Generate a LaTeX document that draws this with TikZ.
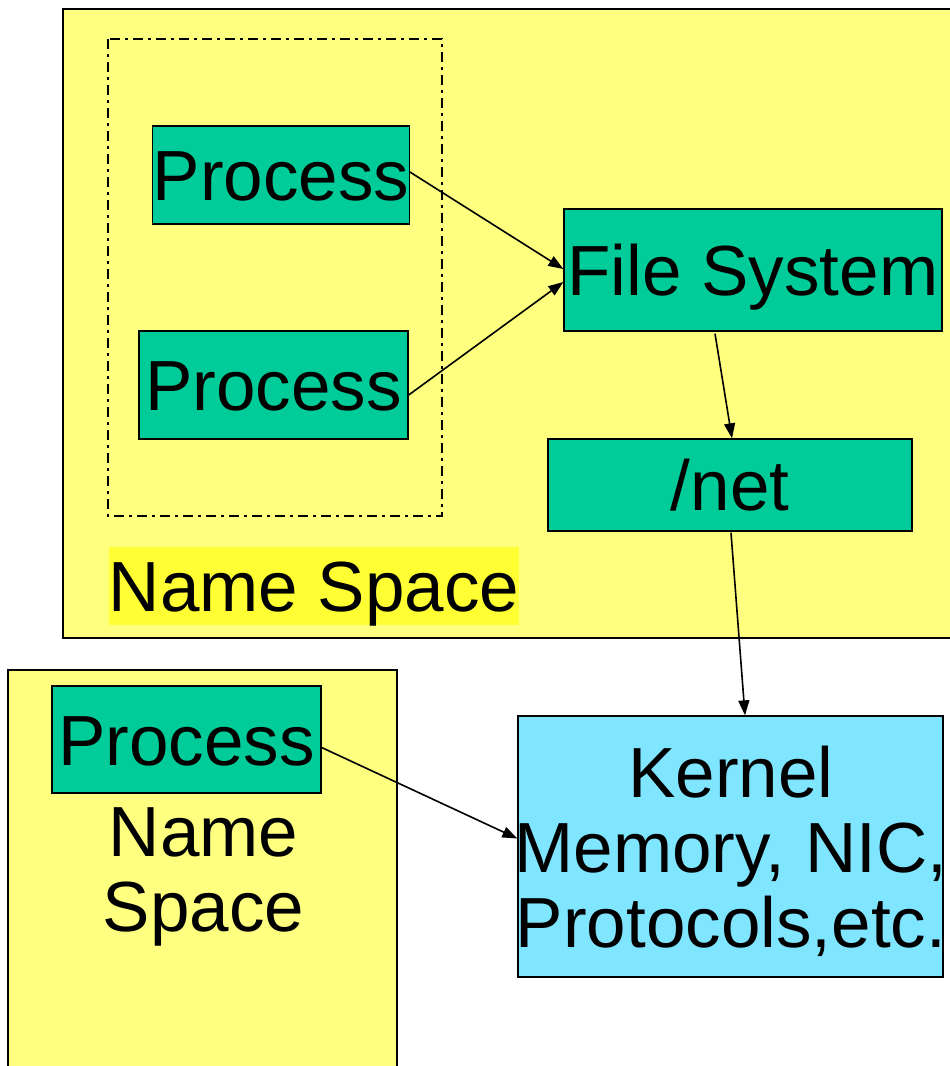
\documentclass[tikz,border=0pt]{standalone}
\usepackage{fontspec}
\setmainfont{Liberation Sans}
\usetikzlibrary{arrows.meta,calc}
\definecolor{nsyellow}{RGB}{255,255,128}
\definecolor{hlyellow}{RGB}{255,255,51}
\definecolor{procgreen}{RGB}{0,204,153}
\definecolor{kcyan}{RGB}{128,229,255}
\begin{document}
\begin{tikzpicture}[x=1pt,y=-1pt,
  bigfont/.style={font=\fontsize{71}{75}\selectfont},
  nsbox/.style={draw=black,line width=1.3pt,fill=nsyellow},
  gbox/.style={draw=black,line width=1.3pt,fill=procgreen,inner sep=0pt,
    bigfont,text height=51pt,text depth=0pt},
  conn/.style={line width=1.6pt,-{Triangle[length=15pt,width=11pt]}},
  ddot/.style={line width=2.4pt,dash pattern=on 10pt off 5pt on 3pt off 5pt}]
\useasboundingbox (0,0) rectangle (950,1066);
\fill[white] (0,0) rectangle (950,1066);
% outer name spaces
\draw[nsbox] (63,9) rectangle (960,638);
\draw[nsbox] (8,670) rectangle (397,1080);
% dash-dot group
\draw[ddot] (108,39) rectangle (442,516);
% nodes
\node[gbox,minimum width=254pt,minimum height=98pt] (p1) at (281,175) {Process};
\node[gbox,minimum width=269pt,minimum height=108pt] (p2) at (273.5,385) {Process};
\node[gbox,minimum width=378pt,minimum height=122pt] (fs) at (753,270) {File System};
\node[gbox,minimum width=364pt,minimum height=92pt] (net) at (730,485) {/net};
\node[fill=hlyellow,inner sep=0pt,minimum width=410pt,minimum height=78pt,
  bigfont,text height=51pt,text depth=0pt] (nslabel) at (314,586) {Name Space};
\node[gbox,minimum width=269pt,minimum height=107pt] (p3) at (186.5,739.5) {Process};
\node[bigfont,align=center,anchor=north,inner sep=0pt] (ns2) at (203.5,807) {Name\\Space};
\node[draw=black,line width=1.3pt,fill=kcyan,minimum width=425pt,minimum height=261pt,inner sep=0pt] (kernel) at (730.5,846.5) {};
\node[bigfont,align=center,anchor=north,inner sep=0pt] (ktext) at (731,746) {Kernel\\Memory, NIC,\\Protocols,etc.};
% connectors
\draw[conn] ($(p1.east)+(0,-3)$) -- ($(fs.west)+(0,-1)$);
\draw[conn] ($(p2.east)+(0,10)$) -- ($(fs.west)+(0,12)$);
\draw[conn] ($(fs.south)+(-38,2)$) -- ($(net.north)+(2,0)$);
\draw[conn] ($(net.south)+(1,1)$) -- ($(kernel.north)+(14.5,0)$);
\draw[conn] ($(p3.east)+(0,8)$) -- ($(kernel.west)+(0,-8)$);
\end{tikzpicture}
\end{document}
